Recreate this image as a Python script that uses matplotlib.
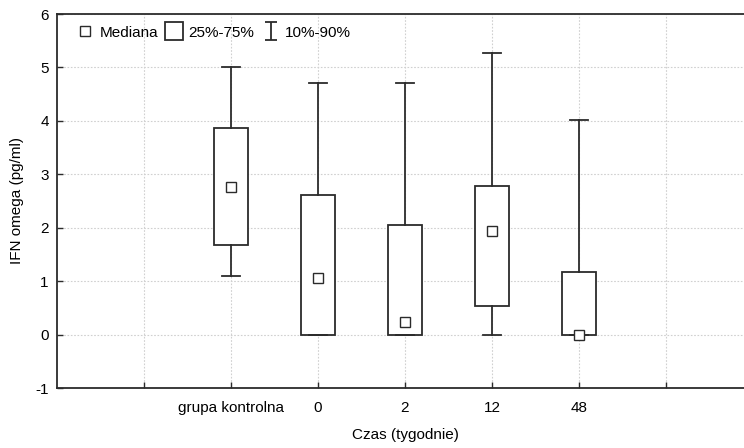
import matplotlib
matplotlib.use("Agg")
import matplotlib.pyplot as plt
from matplotlib.lines import Line2D
from matplotlib.path import Path

plt.rcParams["font.family"] = ["Liberation Sans", "DejaVu Sans"]
plt.rcParams["font.size"] = 11

# --- data (pg/ml) ---
groups = ["grupa kontrolna", "0", "2", "12", "48"]
p10 = [1.10, 0.00, 0.00, 0.00, 0.00]
q25 = [1.68, 0.00, 0.00, 0.54, 0.00]
median = [2.76, 1.06, 0.23, 1.93, -0.01]
q75 = [3.87, 2.62, 2.06, 2.78, 1.17]
p90 = [5.00, 4.70, 4.70, 5.27, 4.02]

y_ticks = [-1, 0, 1, 2, 3, 4, 5, 6]

edge = "#2b2b2b"

fig = plt.figure(figsize=(7.44, 4.48), dpi=100)
# axes runs a little past the right edge, like the original export
ax = fig.add_axes([57 / 744, 60 / 448, 696 / 744, 374 / 448])

positions = list(range(1, len(groups) + 1))
stats = [
    {"whislo": lo, "q1": a, "med": m, "q3": b, "whishi": hi, "fliers": []}
    for lo, a, m, b, hi in zip(p10, q25, median, q75, p90)
]
ax.bxp(
    stats,
    positions=positions,
    widths=0.4,
    capwidths=0.2,
    patch_artist=True,
    boxprops=dict(facecolor="white", edgecolor=edge, linewidth=1.3),
    whiskerprops=dict(color=edge, linewidth=1.3),
    capprops=dict(color=edge, linewidth=1.3),
    medianprops=dict(linewidth=0),
    zorder=3,
)
ax.plot(positions, median, linestyle="none", marker="s", markersize=7,
        markerfacecolor="white", markeredgecolor=edge, markeredgewidth=1.0,
        zorder=4)

ax.set_xlim(-1, 7)
ax.set_ylim(-1, 6)
ax.set_xticks(range(0, 7))
ax.set_xticklabels([""] + groups + [""])
ax.set_yticks(y_ticks)
ax.set_yticklabels([str(v) for v in y_ticks])
ax.tick_params(direction="in", length=4, width=1.0, color=edge, labelsize=11)
ax.tick_params(axis="x", pad=9)
ax.tick_params(axis="y", pad=6)
ax.grid(True, color="#d0d0d0", linestyle=(0, (1.5, 1.5)), linewidth=0.8)
ax.set_axisbelow(True)
for s in ax.spines.values():
    s.set_color(edge)
    s.set_linewidth(1.3)

ax.set_xlabel("Czas (tygodnie)", fontsize=11, labelpad=10)
ax.set_ylabel("IFN omega (pg/ml)", fontsize=11, labelpad=8)

# legend: median square, box, whisker symbol
whisk = Path([(-0.7, -1), (0.7, -1), (0, -1), (0, 1), (-0.7, 1), (0.7, 1)],
             [Path.MOVETO, Path.LINETO, Path.MOVETO, Path.LINETO,
              Path.MOVETO, Path.LINETO])
handles = [
    Line2D([], [], linestyle="none", marker="s", markersize=7,
           markerfacecolor="white", markeredgecolor=edge, markeredgewidth=1.0),
    Line2D([], [], linestyle="none", marker="s", markersize=13,
           markerfacecolor="white", markeredgecolor=edge, markeredgewidth=1.3),
    Line2D([], [], linestyle="none", marker=whisk, markersize=13,
           markeredgecolor=edge, markeredgewidth=1.3),
]
ax.legend(handles, ["Mediana", "25%-75%", "10%-90%"], loc="upper left",
          bbox_to_anchor=(15 / 696, 0.985), ncol=3, frameon=False,
          handlelength=0.9, handletextpad=0.5, columnspacing=0.6,
          fontsize=11, borderaxespad=0)

fig.savefig("out.png", dpi=100)
